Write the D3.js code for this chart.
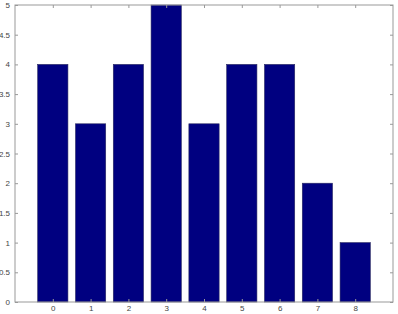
<!DOCTYPE html>
<html>
<head>
<meta charset="utf-8">
<script src="https://cdn.jsdelivr.net/npm/d3@7"></script>
<style>
  body { margin: 0; background: #fff; }
  svg { display: block; }
  .tick text { font-family: "Liberation Sans", Arial, sans-serif; font-size: 8px; fill: #444; }
</style>
</head>
<body>
<svg id="chart" width="398" height="314"></svg>
<script>
// === Data ===
const categories = [0, 1, 2, 3, 4, 5, 6, 7, 8];
const values = [4, 3, 4, 5, 3, 4, 4, 2, 1];
const yTicks = [0, 0.5, 1, 1.5, 2, 2.5, 3, 3.5, 4, 4.5, 5];

const svg = d3.select("#chart");
const plotL = 15, plotR = 393, plotT = 5, plotB = 302;

// x runs one unit past each end, like the original plot
const x = d3.scaleLinear().domain([-1, 9]).range([plotL, plotR]);
const y = d3.scaleLinear().domain([0, 5]).range([plotB, plotT]);
const barW = x(0.8) - x(0);

// === Bars ===
svg.append("g").selectAll("rect")
  .data(values)
  .join("rect")
  .attr("x", (d, i) => x(categories[i]) - barW / 2)
  .attr("y", d => y(d))
  .attr("width", barW)
  .attr("height", d => y(0) - y(d))
  .attr("fill", "#000080")
  .attr("stroke", "#2a2a60")
  .attr("stroke-width", 0.6);

// === Axes (ticks drawn inward on all four sides) ===
const boxColor = "#999";

const xBottom = svg.append("g").attr("transform", `translate(0,${plotB})`)
  .call(d3.axisBottom(x).tickValues(categories).tickSize(-3).tickPadding(3.5).tickFormat(d3.format("d")));
const xTop = svg.append("g").attr("transform", `translate(0,${plotT})`)
  .call(d3.axisTop(x).tickValues(categories).tickSize(-3).tickFormat(""));
const yLeft = svg.append("g").attr("transform", `translate(${plotL},0)`)
  .call(d3.axisLeft(y).tickValues(yTicks).tickSize(-3).tickPadding(5).tickFormat(d => String(d)));
const yRight = svg.append("g").attr("transform", `translate(${plotR},0)`)
  .call(d3.axisRight(y).tickValues(yTicks).tickSize(-3).tickFormat(""));

[xBottom, xTop, yLeft, yRight].forEach(g => {
  g.select(".domain").remove();
  g.selectAll(".tick line").attr("stroke", boxColor);
});

// box outline
svg.append("rect")
  .attr("x", plotL).attr("y", plotT)
  .attr("width", plotR - plotL).attr("height", plotB - plotT)
  .attr("fill", "none").attr("stroke", boxColor).attr("stroke-width", 1);
</script>
</body>
</html>
